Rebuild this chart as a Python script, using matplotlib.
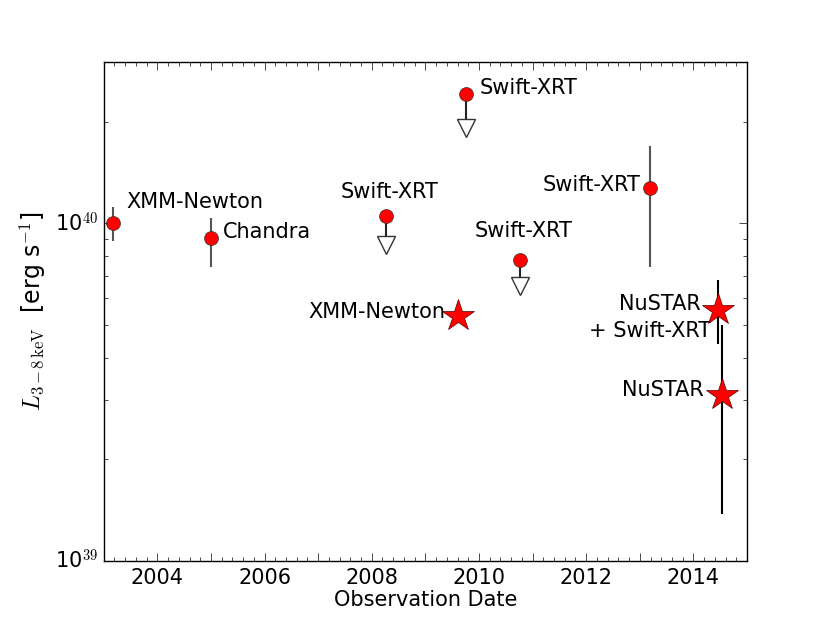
import numpy as np
import matplotlib
matplotlib.use("Agg")
import matplotlib.pyplot as plt
from matplotlib.ticker import MultipleLocator, FuncFormatter, LogLocator, NullFormatter

# detections with error bars (circles)
circ_x = [2003.17, 2005.00, 2013.19]
circ_y = [1.00e40, 9.03e39, 1.27e40]
circ_lo = [8.89e39, 7.41e39, 7.42e39]
circ_hi = [1.12e40, 1.04e40, 1.70e40]

# Swift-XRT upper limits
ul_x = [2008.26, 2009.76, 2010.76]
ul_y = [1.054e40, 2.41e40, 7.80e39]
ul_end = [8.64e39, 1.92e40, 6.53e39]

# XMM-Newton / NuSTAR stars
star_x = [2009.61, 2014.45, 2014.53]
star_y = [5.31e39, 5.52e39, 3.10e39]
star_lo = [5.31e39, 4.40e39, 1.38e39]
star_hi = [5.31e39, 6.78e39, 4.98e39]

# text labels: (text, x, y, ha)
labels = [
    ("XMM-Newton", 2003.42, 1.16e40, "left"),
    ("Chandra", 2005.22, 9.41e39, "left"),
    ("Swift-XRT", 2008.34, 1.235e40, "center"),
    ("Swift-XRT", 2010.01, 2.51e40, "left"),
    ("Swift-XRT", 2010.84, 9.5e39, "center"),
    ("XMM-Newton", 2009.37, 5.46e39, "right"),
    ("Swift-XRT", 2013.02, 1.30e40, "right"),
    ("NuSTAR", 2014.14, 5.75e39, "right"),
    ("+ Swift-XRT", 2014.33, 4.79e39, "right"),
    ("NuSTAR", 2014.19, 3.20e39, "right"),
]

plt.style.use("classic")
plt.rcParams["font.family"] = ["DejaVu Sans"]
plt.rcParams["mathtext.fontset"] = "cm"

fig = plt.figure(figsize=(8.3, 6.23), dpi=100, facecolor="white")
ax = fig.add_axes([0.125, 0.1, 0.775, 0.8])
ax.set_yscale("log")

cy = np.array(circ_y)
ax.errorbar(circ_x, circ_y,
            yerr=[cy - np.array(circ_lo), np.array(circ_hi) - cy],
            fmt="o", color="#555555", ecolor="#555555", elinewidth=1.5,
            capsize=0, mfc="red", mec="#333333", ms=10, zorder=3)

for x, y, e in zip(ul_x, ul_y, ul_end):
    ax.plot([x, x], [y, e], color="#222222", lw=1.5, zorder=2)
    ax.plot([x], [e], marker="v", ms=13, mfc="white", mec="#333333", mew=1, zorder=3)
ax.plot(ul_x, ul_y, "o", mfc="red", mec="#333333", ms=10, zorder=4)

sy = np.array(star_y)
ax.errorbar(star_x, star_y,
            yerr=[sy - np.array(star_lo), np.array(star_hi) - sy],
            fmt="*", color="black", ecolor="black", elinewidth=1.5,
            capsize=0, mfc="red", mec="#550000", mew=0.5, ms=24, zorder=3)

for t, x, y, ha in labels:
    ax.text(x, y, t, ha=ha, va="center", fontsize=15)

ax.set_xlim(2003, 2015)
ax.set_ylim(1e39, 3e40)

ax.xaxis.set_major_locator(MultipleLocator(1))
ax.xaxis.set_minor_locator(MultipleLocator(0.2))
ax.xaxis.set_major_formatter(
    FuncFormatter(lambda v, p: "%d" % round(v) if round(v) % 2 == 0 else ""))
ax.yaxis.set_major_locator(LogLocator(base=10))
ax.yaxis.set_minor_locator(LogLocator(base=10, subs=np.arange(2, 10)))
ax.yaxis.set_minor_formatter(NullFormatter())
ax.yaxis.set_major_formatter(
    FuncFormatter(lambda v, p: r"$\mathdefault{10}^{%d}$" % round(np.log10(v))))

ax.tick_params(which="both", direction="in", top=True, right=True, labelsize=15)
ax.tick_params(which="major", length=6)
ax.tick_params(which="minor", length=3)
ax.tick_params(axis="x", pad=5)

ax.set_xlabel("Observation Date", fontsize=15, labelpad=2)
ax.set_ylabel(r"$L_{3-8\,\mathrm{keV}}$  [erg s$^{-1}$]", fontsize=17)

fig.savefig("out.png", dpi=100, facecolor="white")
